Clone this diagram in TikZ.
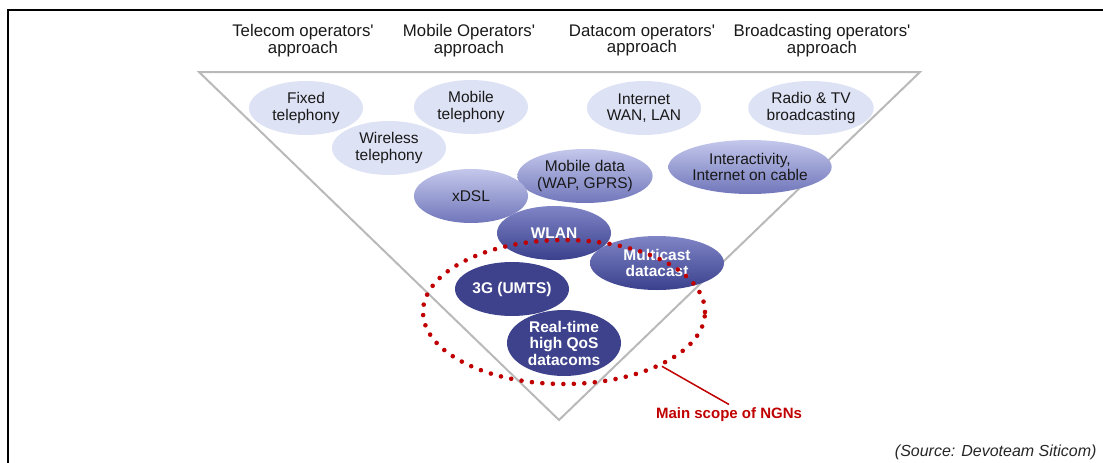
\documentclass[tikz,border=0pt]{standalone}
\usepackage{fontspec}
\setmainfont{Liberation Sans}
\usepackage{tikz}
\usetikzlibrary{shapes.geometric,positioning}

\definecolor{palebl}{RGB}{222,226,245}
\definecolor{midtop}{RGB}{196,200,236}
\definecolor{midbot}{RGB}{112,118,186}
\definecolor{deeptop}{RGB}{128,133,198}
\definecolor{deepbot}{RGB}{58,64,140}
\definecolor{darkbl}{RGB}{62,66,140}
\definecolor{ngnred}{RGB}{192,0,0}
\definecolor{trigray}{RGB}{185,185,185}

\begin{document}
\begin{tikzpicture}[x=1pt,y=-1pt,
  bub/.style={ellipse,inner sep=0pt,minimum width=114pt,minimum height=54pt,
              align=center,text=black!90,font=\fontsize{15.5}{16.5}\selectfont},
  palebub/.style={bub,fill=palebl},
  midbub/.style={bub,top color=midtop,bottom color=midbot},
  deepbub/.style={bub,top color=deeptop,bottom color=deepbot,text=white,
                  font=\bfseries\fontsize{15.5}{16.5}\selectfont},
  darkbub/.style={bub,fill=darkbl,text=white,
                  font=\bfseries\fontsize{15.5}{16.5}\selectfont},
  hdr/.style={align=center,text=black!90,font=\fontsize{16.8}{15.5}\selectfont}]
  \useasboundingbox (0,0) rectangle (1103,463);
%
  \draw [line width=1.5pt] (8,463) -- (8,10) -- (1103,10) ;
%
  \node [hdr] (htel) at (303,40.5) {Telecom operators\textquotesingle\\approach} ;
  \node [hdr] (hmob) at (469,40.5) {Mobile Operators\textquotesingle\\approach} ;
  \node [hdr] (hdat) at (642,40.5) {Datacom operators\textquotesingle\\approach} ;
  \node [hdr] (hbrd) at (822,40.5) {Broadcasting operators\textquotesingle\\approach} ;
%
  \draw [trigray,line width=2pt] (199,72) -- (920,72) -- (559,420) -- cycle ;
%
  \node [palebub] (fix) at (306,108) {Fixed\\telephony} ;
  \node [palebub] (mtel) at (471,107) {Mobile\\telephony} ;
  \node [palebub] (inet) at (644,108) {Internet\\WAN, LAN} ;
  \node [palebub] (rtv) at (811,108) {Radio \& TV\\broadcasting} ;
  \node [palebub] (wls) at (389,148) {Wireless\\telephony} ;
%
  \node [midbub,minimum width=134pt] (itv) at (750,167) {Interactivity,\\Internet on cable} ;
  \node [midbub,minimum width=134pt] (mdat) at (585,176) {Mobile data\\(WAP, GPRS)} ;
  \node [midbub] (xdsl) at (471,196) {xDSL} ;
%
  \node [deepbub] (wlan) at (554,233) {WLAN} ;
  \node [deepbub,minimum width=134pt] (mcst) at (657,263) {Multicast\\datacast} ;
  \node [darkbub] (umts) at (512,289) {3G (UMTS)} ;
  \node [darkbub,minimum height=66pt] (rtq) at (564,343) {Real-time\\high QoS\\datacoms} ;
%
  \node [ellipse,minimum width=282pt,minimum height=144pt,draw=ngnred,
         line width=4.6pt,line cap=round,dash pattern=on 0pt off 10.5pt] (ngn) at (564,312) {} ;
  \node [text=ngnred,font=\bfseries\fontsize{15}{17}\selectfont] (ngnl) at (729,415) {Main scope of NGNs} ;
  \draw [ngnred,line width=1.5pt] (ngn.-29) -- (ngnl.north) ;
%
  \node [font=\itshape\fontsize{16}{18}\selectfont,text=black!85,anchor=east] (src) at (1100,452) {(Source: Devoteam Siticom)} ;
\end{tikzpicture}
\end{document}
